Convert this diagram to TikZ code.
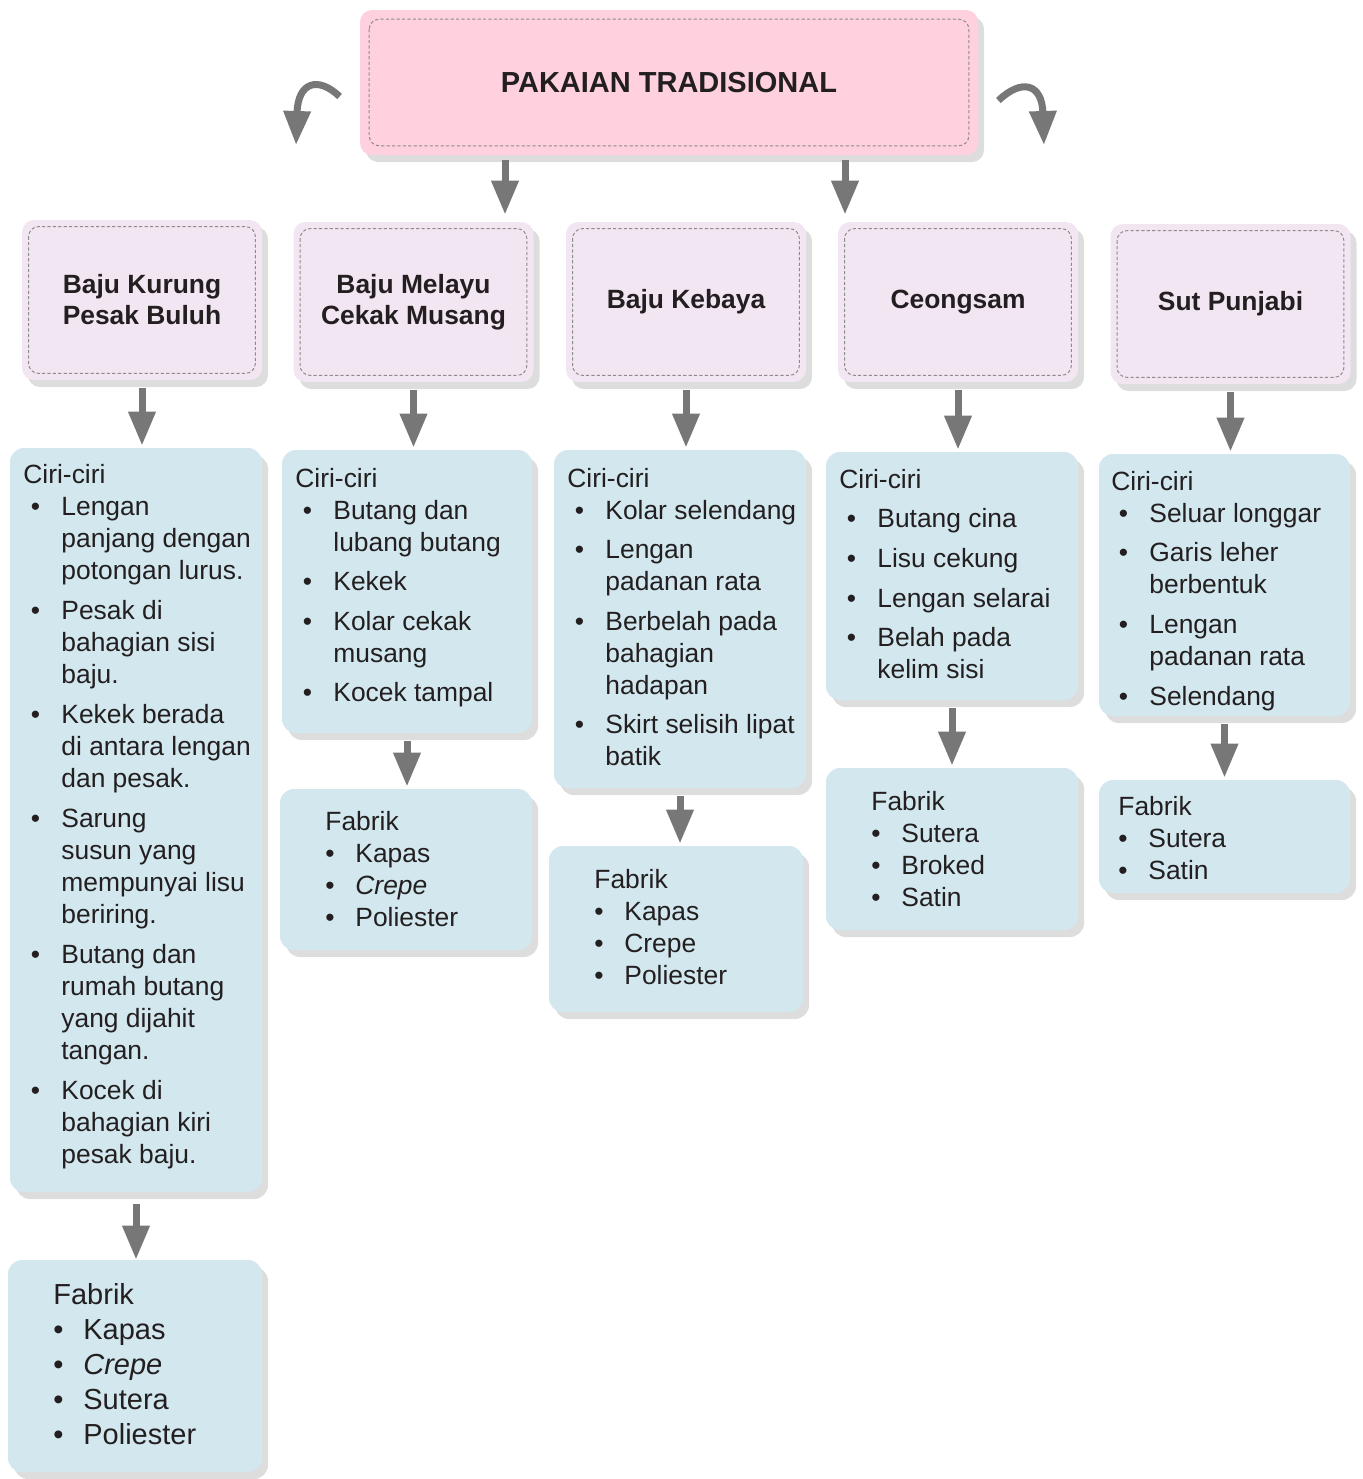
\documentclass[tikz,border=0pt]{standalone}
\usepackage{fontspec}
\setmainfont{Liberation Sans}
\usetikzlibrary{arrows.meta,shadows}
\definecolor{pinkbg}{RGB}{255,209,223}
\definecolor{lilac}{RGB}{243,230,243}
\definecolor{paleblue}{RGB}{210,231,238}
\definecolor{shade}{RGB}{221,221,221}
\definecolor{arrowgray}{RGB}{119,119,119}
\definecolor{dashgray}{RGB}{140,140,140}
\definecolor{ink}{RGB}{35,31,32}
\newcommand{\bul}{\makebox[19pt][l]{\hspace{3.7pt}\textbullet}}
\newcommand{\cont}{\makebox[19pt]{}}
\newcommand{\fbul}{\makebox[15pt][l]{\textbullet}}
\begin{document}
\begin{tikzpicture}[x=0.5pt,y=-0.5pt,text=ink,
  box/.style={rounded corners=6pt,general shadow={fill=shade,shadow xshift=3pt,shadow yshift=-3.5pt}},
  inset/.style={path picture={\draw[dashgray,line width=0.5pt,dash pattern=on 1.6pt off 1.1pt,rounded corners=5pt]
    ([shift={(#1,-#1)}]path picture bounding box.north west) rectangle ([shift={(-#1,#1)}]path picture bounding box.south east);}},
  hdr/.style={box,fill=lilac,inset=3.3pt,minimum width=120pt,minimum height=80pt,align=center,font=\bfseries\fontsize{13.2}{15.5}\selectfont},
  info/.style={box,fill=paleblue,rounded corners=7pt},
  txt/.style={anchor=base west,align=left,inner sep=0pt,font=\fontsize{13.2}{16}\selectfont},
  arr/.style={draw=arrowgray,line width=3.5pt,shorten <=4pt,shorten >=1pt,-{Triangle[width=13pt,length=17pt]}}]
\useasboundingbox (0,0) rectangle (1362,1479);

% title
\node[box,fill=pinkbg,inset=4.6pt,minimum width=309pt,minimum height=72.5pt,font=\bfseries\fontsize{14.5}{17}\selectfont] (title) at (669,82.5) {PAKAIAN TRADISIONAL};
\coordinate (lt) at (296,147);
\coordinate (rt) at (1044,147);
\draw[arr,shorten <=0pt] ([shift={(-10pt,-7pt)}]title.west) .. controls (318,76) and (298,82) .. (lt);
\draw[arr,shorten <=0pt] ([shift={(10pt,-9pt)}]title.east) .. controls (1022,78) and (1042,84) .. (rt);

% headers
\node[hdr] (h1) at (142,300) {Baju Kurung\\Pesak Buluh};
\node[hdr] (h2) at (413.5,302) {Baju Melayu\\Cekak Musang};
\node[hdr] (h3) at (686,302) {Baju Kebaya};
\node[hdr] (h4) at (958,302) {Ceongsam};
\node[hdr] (h5) at (1230.5,304) {Sut Punjabi};
\draw[arr,shorten <=2.5pt,shorten >=3.5pt] ([xshift=-82pt]title.south) -- ([xshift=-82pt]title.south |- h2.north);
\draw[arr,shorten <=2.5pt,shorten >=3.5pt] ([xshift=88pt]title.south) -- ([xshift=88pt]title.south |- h4.north);

% ciri-ciri
\node[info,minimum width=126pt,minimum height=372pt] (c1) at (136,820) {};
\node[info,minimum width=125pt,minimum height=141.5pt] (c2) at (407,591.5) {};
\node[info,minimum width=126pt,minimum height=169pt] (c3) at (680,619) {};
\node[info,minimum width=126pt,minimum height=124pt] (c4) at (952,576) {};
\node[info,minimum width=125.5pt,minimum height=131pt] (c5) at (1224.5,585) {};
\draw[arr] (h1.south) -- (h1.south |- c1.north);
\draw[arr] (h2.south) -- (h2.south |- c2.north);
\draw[arr] (h3.south) -- (h3.south |- c3.north);
\draw[arr] (h4.south) -- (h4.south |- c4.north);
\draw[arr] (h5.south) -- (h5.south |- c5.north);

\node[txt] (c1t) at (23,1163) {Ciri-ciri\\
\bul Lengan\\ \cont panjang dengan\\ \cont potongan lurus.\\[4pt]
\bul Pesak di\\ \cont bahagian sisi\\ \cont baju.\\[4pt]
\bul Kekek berada\\ \cont di antara lengan\\ \cont dan pesak.\\[4pt]
\bul Sarung\\ \cont susun yang\\ \cont mempunyai lisu\\ \cont beriring.\\[4pt]
\bul Butang dan\\ \cont rumah butang\\ \cont yang dijahit\\ \cont tangan.\\[4pt]
\bul Kocek di\\ \cont bahagian kiri\\ \cont pesak baju.};
\node[txt] (c2t) at (295,701) {Ciri-ciri\\
\bul Butang dan\\ \cont lubang butang\\[3.5pt]
\bul Kekek\\[4pt]
\bul Kolar cekak\\ \cont musang\\[3.5pt]
\bul Kocek tampal};
\node[txt] (c3t) at (567,765) {Ciri-ciri\\
\bul Kolar selendang\\[3.5pt]
\bul Lengan\\ \cont padanan rata\\[4pt]
\bul Berbelah pada\\ \cont bahagian\\ \cont hadapan\\[3.5pt]
\bul Skirt selisih lipat\\ \cont batik};
\node[txt] (c4t) at (839,678) {Ciri-ciri\\[3.5pt]
\bul Butang cina\\[4pt]
\bul Lisu cekung\\[4pt]
\bul Lengan selarai\\[3.5pt]
\bul Belah pada\\ \cont kelim sisi};
\node[txt] (c5t) at (1111,705) {Ciri-ciri\\
\bul Seluar longgar\\[3.5pt]
\bul Garis leher\\ \cont berbentuk\\[4pt]
\bul Lengan\\ \cont padanan rata\\[4pt]
\bul Selendang};

% fabrik
\node[info,minimum width=127pt,minimum height=106pt] (f1) at (135,1366) {};
\node[info,minimum width=126pt,minimum height=80.5pt] (f2) at (406,869.5) {};
\node[info,minimum width=127pt,minimum height=83pt] (f3) at (676,929) {};
\node[info,minimum width=126pt,minimum height=81pt] (f4) at (952,849) {};
\node[info,minimum width=125.5pt,minimum height=56.5pt] (f5) at (1224.5,836.5) {};
\draw[arr,shorten <=6pt,shorten >=0pt] (c1.south) -- (c1.south |- f1.north);
\draw[arr] (c2.south) -- (c2.south |- f2.north);
\draw[arr] (c3.south) -- (c3.south |- f3.north);
\draw[arr] (c4.south) -- (c4.south |- f4.north);
\draw[arr] (c5.south) -- (c5.south |- f5.north);

\node[txt,font=\fontsize{14.5}{17.5}\selectfont] (f1t) at (53,1444) {Fabrik\\ \fbul Kapas\\ \fbul \textit{Crepe}\\ \fbul Sutera\\ \fbul Poliester};
\node[txt] (f2t) at (325,926) {Fabrik\\ \fbul Kapas\\ \fbul \textit{Crepe}\\ \fbul Poliester};
\node[txt] (f3t) at (594,984) {Fabrik\\ \fbul Kapas\\ \fbul Crepe\\ \fbul Poliester};
\node[txt] (f4t) at (871,906) {Fabrik\\ \fbul Sutera\\ \fbul Broked\\ \fbul Satin};
\node[txt] (f5t) at (1118,879) {Fabrik\\ \fbul Sutera\\ \fbul Satin};
\end{tikzpicture}
\end{document}
